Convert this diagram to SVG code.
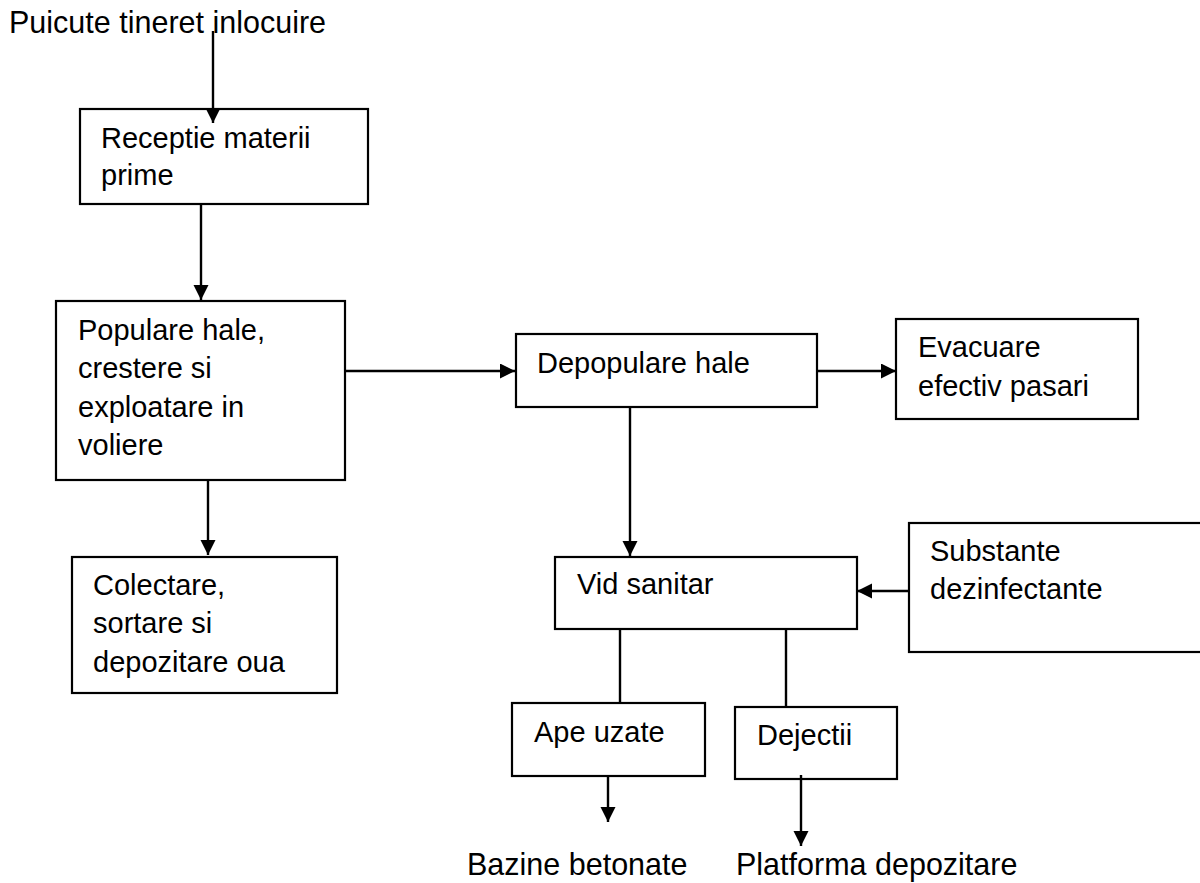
<svg xmlns="http://www.w3.org/2000/svg" width="1200" height="883" viewBox="0 0 1200 883">
<style>
.box{fill:#fff;stroke:#000;stroke-width:2.2}
.t{font-family:"Liberation Sans",Arial,sans-serif;font-size:29px;fill:#000}
.lbl{font-family:"Liberation Sans",Arial,sans-serif;font-size:30.5px;fill:#000}
.c{stroke:#000;stroke-width:2.4;fill:none}
</style>
<defs>
<marker id="ah" markerUnits="userSpaceOnUse" markerWidth="16" markerHeight="16" refX="15" refY="7.5" orient="auto">
<path d="M0,0 L15,7.5 L0,15 z" fill="#000"/>
</marker>
</defs>
<rect width="1200" height="883" fill="#fff"/>
<g id="puicute"><text class="lbl" x="9" y="33">Puicute tineret inlocuire</text></g>
<g id="receptie">
<rect class="box" x="80" y="109" width="288" height="95"/>
<text class="t" x="101" y="148">Receptie materii</text>
<text class="t" x="101" y="185">prime</text>
</g>
<g id="populare">
<rect class="box" x="56" y="301" width="289" height="179"/>
<text class="t" x="78" y="340">Populare hale,</text>
<text class="t" x="78" y="378">crestere si</text>
<text class="t" x="78" y="417">exploatare in</text>
<text class="t" x="78" y="455">voliere</text>
</g>
<g id="colectare">
<rect class="box" x="72" y="557" width="265" height="136"/>
<text class="t" x="93" y="595">Colectare,</text>
<text class="t" x="93" y="633">sortare si</text>
<text class="t" x="93" y="672">depozitare oua</text>
</g>
<g id="depopulare">
<rect class="box" x="516" y="334" width="301" height="73"/>
<text class="t" x="537" y="373">Depopulare hale</text>
</g>
<g id="evacuare">
<rect class="box" x="896" y="319" width="242" height="100"/>
<text class="t" x="918" y="357">Evacuare</text>
<text class="t" x="918" y="396">efectiv pasari</text>
</g>
<g id="vid">
<rect class="box" x="555" y="557" width="302" height="72"/>
<text class="t" x="577" y="594">Vid sanitar</text>
</g>
<g id="substante">
<rect class="box" x="909" y="523" width="300" height="129"/>
<text class="t" x="930" y="561">Substante</text>
<text class="t" x="930" y="599">dezinfectante</text>
</g>
<g id="ape">
<rect class="box" x="512" y="703" width="193" height="73"/>
<text class="t" x="534" y="742">Ape uzate</text>
</g>
<g id="dejectii">
<rect class="box" x="735" y="707" width="162" height="72"/>
<text class="t" x="757" y="745">Dejectii</text>
</g>
<g id="bazine"><text class="lbl" x="467" y="875">Bazine betonate</text></g>
<g id="platforma"><text class="lbl" x="736" y="875">Platforma depozitare</text></g>
<g id="connectors">
<line class="c" x1="213" y1="31" x2="213" y2="123" marker-end="url(#ah)"/>
<line class="c" x1="201" y1="205" x2="201" y2="300" marker-end="url(#ah)"/>
<line class="c" x1="208" y1="479" x2="208" y2="555" marker-end="url(#ah)"/>
<line class="c" x1="345" y1="371" x2="515" y2="371" marker-end="url(#ah)"/>
<line class="c" x1="817" y1="371" x2="896" y2="371" marker-end="url(#ah)"/>
<line class="c" x1="630" y1="407" x2="630" y2="556" marker-end="url(#ah)"/>
<line class="c" x1="909" y1="591" x2="857" y2="591" marker-end="url(#ah)"/>
<line class="c" x1="620" y1="629" x2="620" y2="703"/>
<line class="c" x1="786" y1="629" x2="786" y2="707"/>
<line class="c" x1="608" y1="776" x2="608" y2="822" marker-end="url(#ah)"/>
<line class="c" x1="801" y1="775" x2="801" y2="846" marker-end="url(#ah)"/>
</g>
</svg>
